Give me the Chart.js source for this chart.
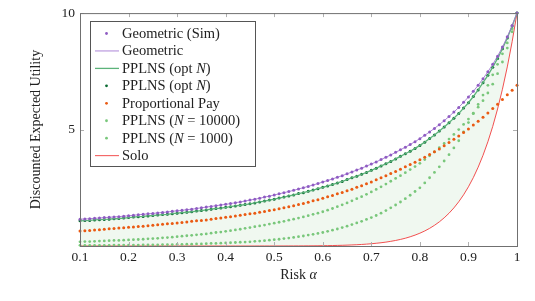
<!DOCTYPE html>
<html>
<head>
<meta charset="utf-8">
<script src="https://cdn.jsdelivr.net/npm/chart.js@4/dist/chart.umd.min.js"></script>
<style>
  html, body { margin: 0; padding: 0; background: #fff; }
</style>
</head>
<body>
<canvas id="chart" width="535" height="301"></canvas>
<script>
// Risk alpha (x values)
const alphas = [
  0.10, 0.11, 0.12, 0.13, 0.14, 0.15, 0.16, 0.17, 0.18, 0.19,
  0.20, 0.21, 0.22, 0.23, 0.24, 0.25, 0.26, 0.27, 0.28, 0.29,
  0.30, 0.31, 0.32, 0.33, 0.34, 0.35, 0.36, 0.37, 0.38, 0.39,
  0.40, 0.41, 0.42, 0.43, 0.44, 0.45, 0.46, 0.47, 0.48, 0.49,
  0.50, 0.51, 0.52, 0.53, 0.54, 0.55, 0.56, 0.57, 0.58, 0.59,
  0.60, 0.61, 0.62, 0.63, 0.64, 0.65, 0.66, 0.67, 0.68, 0.69,
  0.70, 0.71, 0.72, 0.73, 0.74, 0.75, 0.76, 0.77, 0.78, 0.79,
  0.80, 0.81, 0.82, 0.83, 0.84, 0.85, 0.86, 0.87, 0.88, 0.89,
  0.90, 0.91, 0.92, 0.93, 0.94, 0.95, 0.96, 0.97, 0.98, 0.99,
  1.00
];

// Geometric (sim + analytic)
const geometric = [
  1.15, 1.16, 1.17, 1.19, 1.20, 1.22, 1.23, 1.25, 1.26, 1.28,
  1.30, 1.32, 1.34, 1.36, 1.38, 1.40, 1.42, 1.44, 1.46, 1.49,
  1.51, 1.53, 1.56, 1.58, 1.61, 1.64, 1.67, 1.70, 1.73, 1.76,
  1.79, 1.82, 1.86, 1.89, 1.93, 1.97, 2.01, 2.05, 2.10, 2.14,
  2.19, 2.24, 2.29, 2.34, 2.39, 2.45, 2.50, 2.56, 2.62, 2.68,
  2.75, 2.81, 2.88, 2.95, 3.02, 3.10, 3.18, 3.26, 3.34, 3.43,
  3.52, 3.61, 3.71, 3.81, 3.91, 4.02, 4.13, 4.24, 4.36, 4.48,
  4.61, 4.75, 4.90, 5.05, 5.21, 5.38, 5.56, 5.75, 5.95, 6.17,
  6.40, 6.64, 6.90, 7.18, 7.48, 7.80, 8.15, 8.54, 8.98, 9.47,
  10.0
];

// PPLNS with optimal N
const pplnsOpt = [
  1.08, 1.09, 1.10, 1.12, 1.13, 1.14, 1.15, 1.17, 1.18, 1.20,
  1.22, 1.24, 1.26, 1.27, 1.29, 1.31, 1.33, 1.35, 1.36, 1.39,
  1.41, 1.43, 1.45, 1.47, 1.50, 1.52, 1.55, 1.58, 1.61, 1.63,
  1.66, 1.69, 1.72, 1.75, 1.78, 1.81, 1.85, 1.89, 1.93, 1.97,
  2.01, 2.06, 2.10, 2.15, 2.19, 2.25, 2.29, 2.35, 2.40, 2.46,
  2.52, 2.58, 2.64, 2.71, 2.77, 2.85, 2.93, 3.00, 3.08, 3.16,
  3.25, 3.34, 3.44, 3.53, 3.63, 3.74, 3.85, 3.96, 4.07, 4.19,
  4.32, 4.46, 4.62, 4.77, 4.94, 5.11, 5.29, 5.49, 5.69, 5.92,
  6.15, 6.42, 6.70, 7.01, 7.33, 7.68, 8.05, 8.47, 8.93, 9.45,
  10.0
];

// Proportional pay
const proportional = [
  0.64, 0.66, 0.67, 0.69, 0.70, 0.72, 0.74, 0.75, 0.77, 0.78,
  0.80, 0.82, 0.84, 0.85, 0.87, 0.89, 0.91, 0.93, 0.95, 0.97,
  0.99, 1.01, 1.03, 1.06, 1.08, 1.10, 1.12, 1.15, 1.18, 1.20,
  1.23, 1.26, 1.29, 1.32, 1.35, 1.38, 1.41, 1.45, 1.48, 1.52,
  1.56, 1.60, 1.64, 1.69, 1.73, 1.78, 1.83, 1.88, 1.94, 1.99,
  2.05, 2.11, 2.17, 2.24, 2.30, 2.37, 2.44, 2.52, 2.59, 2.67,
  2.75, 2.84, 2.93, 3.02, 3.11, 3.20, 3.30, 3.40, 3.50, 3.60,
  3.70, 3.81, 3.93, 4.05, 4.17, 4.30, 4.44, 4.58, 4.72, 4.87,
  5.02, 5.19, 5.36, 5.53, 5.71, 5.90, 6.09, 6.29, 6.49, 6.69,
  6.90
];

// PPLNS N = 10000
const pplns10000 = [
  0.18, 0.19, 0.19, 0.20, 0.21, 0.22, 0.23, 0.24, 0.24, 0.25,
  0.26, 0.27, 0.28, 0.29, 0.31, 0.32, 0.33, 0.35, 0.36, 0.38,
  0.40, 0.42, 0.44, 0.46, 0.48, 0.50, 0.52, 0.55, 0.58, 0.60,
  0.63, 0.66, 0.69, 0.72, 0.76, 0.79, 0.83, 0.86, 0.90, 0.94,
  0.98, 1.02, 1.06, 1.11, 1.15, 1.20, 1.25, 1.30, 1.36, 1.41,
  1.47, 1.54, 1.61, 1.69, 1.77, 1.85, 1.94, 2.03, 2.12, 2.22,
  2.32, 2.43, 2.54, 2.66, 2.78, 2.90, 3.02, 3.15, 3.28, 3.41,
  3.55, 3.71, 3.87, 4.04, 4.22, 4.40, 4.59, 4.79, 5.00, 5.22,
  5.45, 5.70, 5.96, 6.24, 6.57, 6.95, 7.40, 7.90, 8.50, 9.20,
  10.0
];

// PPLNS N = 1000
const pplns1000 = [
  0.03, 0.03, 0.03, 0.03, 0.03, 0.03, 0.03, 0.04, 0.04, 0.04,
  0.04, 0.04, 0.04, 0.05, 0.05, 0.05, 0.05, 0.06, 0.06, 0.06,
  0.07, 0.07, 0.08, 0.08, 0.09, 0.09, 0.10, 0.11, 0.11, 0.12,
  0.13, 0.14, 0.15, 0.16, 0.17, 0.18, 0.20, 0.21, 0.23, 0.25,
  0.27, 0.29, 0.32, 0.34, 0.37, 0.40, 0.43, 0.47, 0.50, 0.54,
  0.58, 0.63, 0.68, 0.73, 0.79, 0.85, 0.92, 0.99, 1.06, 1.14,
  1.22, 1.31, 1.41, 1.52, 1.64, 1.76, 1.89, 2.03, 2.18, 2.34,
  2.50, 2.71, 2.93, 3.16, 3.40, 3.65, 3.92, 4.21, 4.52, 4.90,
  5.30, 5.68, 6.08, 6.48, 6.90, 7.35, 7.80, 8.25, 8.72, 9.33,
  10.0
];

// Solo mining
const solo = [
  0, 0, 0, 0, 0, 0, 0, 0, 0, 0,
  0, 0, 0, 0, 0, 0, 0, 0, 0, 0,
  0, 0, 0, 0, 0, 0, 0, 0, 0, 0,
  0, 0, 0, 0, 0, 0, 0, 0.001, 0.001, 0.001,
  0.001, 0.002, 0.002, 0.003, 0.003, 0.004, 0.005, 0.007, 0.008, 0.010,
  0.013, 0.016, 0.020, 0.025, 0.030, 0.037, 0.045, 0.055, 0.066, 0.080,
  0.097, 0.117, 0.140, 0.167, 0.200, 0.238, 0.282, 0.334, 0.396, 0.467,
  0.550, 0.646, 0.758, 0.887, 1.036, 1.209, 1.407, 1.636, 1.898, 2.198,
  2.542, 2.935, 3.383, 3.893, 4.474, 5.133, 5.882, 6.730, 7.690, 8.775,
  10.0
];

const xTicks = [0.1, 0.2, 0.3, 0.4, 0.5, 0.6, 0.7, 0.8, 0.9, 1];
const yTicks = [5, 10];

const serif = "'Liberation Serif', 'Times New Roman', serif";

function pts(values) {
  return alphas.map((a, i) => ({ x: a, y: values[i] }));
}

function dots(label, values, color, r) {
  return {
    label: label, data: pts(values), showLine: false,
    pointRadius: r, pointBorderWidth: 0, pointBackgroundColor: color,
    borderColor: color, backgroundColor: color, clip: 4
  };
}

function line(label, values, color, w) {
  return {
    label: label, data: pts(values), pointRadius: 0,
    borderColor: color, borderWidth: w, backgroundColor: color,
    tension: 0, fill: false, clip: 4
  };
}

const optLine = line('PPLNS (opt N)', pplnsOpt, '#5cb37a', 1.3);
optLine.fill = 7;
optLine.backgroundColor = 'rgba(120,195,120,0.11)';

const datasets = [
  dots('Geometric (Sim)', geometric, '#8f5cc2', 1.5),
  line('Geometric', geometric, '#a377d2', 0.9),
  optLine,
  dots('PPLNS (opt N)', pplnsOpt, '#0b6b33', 1.5),
  dots('Proportional Pay', proportional, '#ea5a12', 1.5),
  dots('PPLNS (N = 10000)', pplns10000, '#79c77b', 1.4),
  dots('PPLNS (N = 1000)', pplns1000, '#79c77b', 1.4),
  line('Solo', solo, '#f03c3c', 0.9)
];

// Draw a label with italic N inside the brackets
function drawLabel(ctx, text, x, y, size) {
  const open = text.indexOf('(');
  const parts = [];
  if (open < 0) {
    parts.push([text, false]);
  } else {
    parts.push([text.slice(0, open), false]);
    text.slice(open).split(/(N)/).forEach(p => { if (p) parts.push([p, p === 'N']); });
  }
  parts.forEach(([s, it]) => {
    ctx.font = (it ? 'italic ' : '') + size + 'px ' + serif;
    ctx.fillText(s, x, y);
    x += ctx.measureText(s).width;
  });
}

const framePlugin = {
  id: 'frame',
  afterDraw(chart) {
    const ctx = chart.ctx;
    const a = chart.chartArea;
    const xs = chart.scales.x, ys = chart.scales.y;
    ctx.save();

    // inner tick marks
    ctx.strokeStyle = '#b0b0b0';
    ctx.lineWidth = 1;
    ctx.beginPath();
    xTicks.forEach(v => {
      const px = Math.round(xs.getPixelForValue(v)) + 0.5;
      ctx.moveTo(px, a.bottom); ctx.lineTo(px, a.bottom - 4);
      ctx.moveTo(px, a.top); ctx.lineTo(px, a.top + 4);
    });
    yTicks.forEach(v => {
      const py = Math.round(ys.getPixelForValue(v)) + 0.5;
      ctx.moveTo(a.left, py); ctx.lineTo(a.left + 4, py);
      ctx.moveTo(a.right, py); ctx.lineTo(a.right - 4, py);
    });
    ctx.stroke();

    // frame
    ctx.strokeStyle = '#707070';
    ctx.strokeRect(a.left + 0.5, a.top + 0.5, a.right - a.left, a.bottom - a.top);

    // axis titles
    ctx.fillStyle = '#222';
    ctx.textBaseline = 'alphabetic';
    ctx.font = '14px ' + serif;
    const risk = 'Risk ';
    const w1 = ctx.measureText(risk).width;
    ctx.font = 'italic 14px ' + serif;
    const w2 = ctx.measureText('α').width;
    let tx = (a.left + a.right) / 2 - (w1 + w2) / 2;
    ctx.font = '14px ' + serif;
    ctx.fillText(risk, tx, 279);
    ctx.font = 'italic 14px ' + serif;
    ctx.fillText('α', tx + w1, 279);

    ctx.save();
    ctx.translate(39.5, (a.top + a.bottom) / 2);
    ctx.rotate(-Math.PI / 2);
    ctx.textAlign = 'center';
    ctx.font = '14px ' + serif;
    ctx.fillText('Discounted Expected Utility', 0, 0);
    ctx.restore();

    // legend
    const bx = 90.5, by = 21.5, bw = 165, bh = 145;
    ctx.fillStyle = '#fff';
    ctx.fillRect(bx, by, bw, bh);
    ctx.strokeStyle = '#555';
    ctx.strokeRect(bx, by, bw, bh);
    chart.data.datasets.forEach((ds, i) => {
      const y = 33.5 + i * 17.45;
      if (ds.showLine === false) {
        ctx.fillStyle = ds.pointBackgroundColor;
        ctx.beginPath();
        ctx.arc(106.5, y, 1.4, 0, Math.PI * 2);
        ctx.fill();
      } else {
        ctx.strokeStyle = ds.borderColor;
        ctx.lineWidth = ds.borderWidth;
        ctx.beginPath();
        ctx.moveTo(95, y); ctx.lineTo(119, y);
        ctx.stroke();
      }
      ctx.fillStyle = '#222';
      ctx.textBaseline = 'middle';
      drawLabel(ctx, ds.label, 122, y + 0.5, 14.5);
    });
    ctx.restore();
  }
};

new Chart(document.getElementById('chart'), {
  type: 'line',
  data: { datasets: datasets },
  options: {
    responsive: false,
    animation: false,
    devicePixelRatio: 1,
    layout: { padding: { top: 8, right: 18, left: 0, bottom: 0 } },
    plugins: {
      legend: { display: false },
      tooltip: { enabled: false },
      filler: { drawTime: 'beforeDatasetsDraw' }
    },
    scales: {
      x: {
        type: 'linear', min: 0.1, max: 1,
        grid: { display: false, drawTicks: false },
        border: { display: false },
        afterBuildTicks: s => { s.ticks = xTicks.map(v => ({ value: v })); },
        afterFit: s => { s.height = 55; },
        ticks: {
          padding: 3, color: '#222', maxRotation: 0,
          font: { family: serif, size: 13.5 },
          callback: v => (v === 1 ? '1' : v.toFixed(1))
        }
      },
      y: {
        type: 'linear', min: 0, max: 10,
        grid: { display: false, drawTicks: false },
        border: { display: false },
        afterBuildTicks: s => { s.ticks = yTicks.map(v => ({ value: v })); },
        afterFit: s => { s.width = 80; },
        ticks: {
          padding: 5, color: '#222',
          font: { family: serif, size: 13.5 },
          callback: v => String(v)
        }
      }
    }
  },
  plugins: [framePlugin]
});
</script>
</body>
</html>
